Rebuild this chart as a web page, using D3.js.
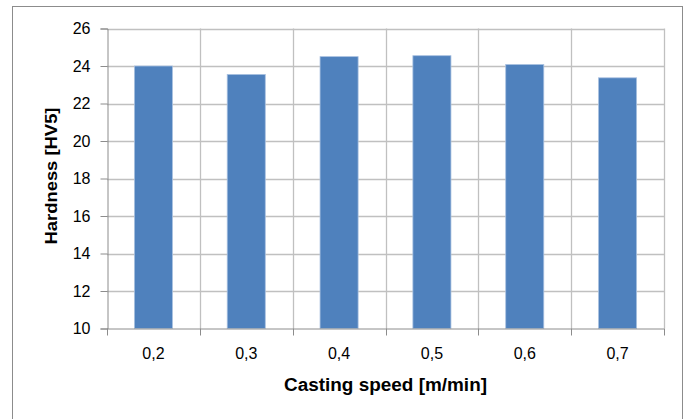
<!DOCTYPE html>
<html><head><meta charset="utf-8">
<script src="https://cdn.jsdelivr.net/npm/d3@7"></script>
<style>body{margin:0;background:#fff}svg{display:block}</style>
</head><body>
<svg id="c" width="689" height="419"></svg>
<script>
const categories = ["0,2","0,3","0,4","0,5","0,6","0,7"];
const hardness = [24.0, 23.55, 24.5, 24.55, 24.08, 23.37];
const yTicks = [10,12,14,16,18,20,22,24,26];
const xTitle = "Casting speed [m/min]";
const yTitle = "Hardness [HV5]";

const svg = d3.select("#c");
const font = "'Liberation Sans', Arial, sans-serif";
const L = 107, R = 664, T = 28.5, B = 328.5;

// outer frame
svg.append("rect").attr("x",12.5).attr("y",6.5).attr("width",670).attr("height",430)
  .attr("fill","none").attr("stroke","#8c8c8c").attr("stroke-width",1);

const x = d3.scaleBand().domain(categories).range([L,R]).paddingInner(0.59).paddingOuter(0.295);
const xb = d3.scaleBand().domain(categories).range([L,R]).padding(0);
const y = d3.scaleLinear().domain([10,26]).range([B,T]);

// horizontal gridlines
svg.append("g").selectAll("line").data(yTicks.filter(d=>d>10)).join("line")
  .attr("x1",L).attr("x2",R).attr("y1",d=>Math.round(y(d))+0.5).attr("y2",d=>Math.round(y(d))+0.5)
  .attr("stroke","#c0c0c0").attr("stroke-width",1.3);
// vertical gridlines at category boundaries
const bounds = categories.map(c=>xb(c)).concat([R]);
svg.append("g").selectAll("line").data(bounds.slice(1)).join("line")
  .attr("x1",d=>Math.round(d)+0.5).attr("x2",d=>Math.round(d)+0.5).attr("y1",T).attr("y2",B)
  .attr("stroke","#c0c0c0").attr("stroke-width",1.3);

// bars
svg.append("g").selectAll("rect").data(hardness).join("rect")
  .attr("x",(d,i)=>x(categories[i])).attr("width",x.bandwidth())
  .attr("y",d=>y(d)).attr("height",d=>B-y(d))
  .attr("fill","#4f81bd").attr("stroke","#a9c1e0").attr("stroke-width",0.8);

// y axis
const ya = d3.axisLeft(y).tickValues(yTicks).tickSize(7).tickPadding(10).tickFormat(d3.format("d"));
const gy = svg.append("g").attr("transform",`translate(${L+0.5},0)`).call(ya);
gy.select(".domain").attr("stroke","#8c8c8c");
gy.selectAll(".tick line").attr("stroke","#8c8c8c");
gy.selectAll(".tick text").attr("font-family",font).attr("font-size",16).attr("fill","#000");

// x axis
const gx = svg.append("g").attr("transform",`translate(0,${B+0.5})`)
  .call(d3.axisBottom(x).tickSize(0).tickPadding(19));
gx.select(".domain").attr("stroke","#8c8c8c").attr("d",`M${L},0H${R}`);
gx.selectAll(".tick text").attr("font-family",font).attr("font-size",16).attr("fill","#000");
svg.append("g").selectAll("line").data(bounds).join("line")
  .attr("x1",d=>Math.round(d)+0.5).attr("x2",d=>Math.round(d)+0.5).attr("y1",B).attr("y2",B+7)
  .attr("stroke","#8c8c8c");

// titles
svg.append("text").attr("x",(L+R)/2).attr("y",391).attr("text-anchor","middle")
  .attr("font-family",font).attr("font-weight","bold").attr("font-size",18)
  .attr("textLength",203).attr("lengthAdjust","spacingAndGlyphs").text(xTitle);
svg.append("text").attr("transform",`translate(57,176) rotate(-90)`).attr("text-anchor","middle")
  .attr("font-family",font).attr("font-weight","bold").attr("font-size",17)
  .attr("textLength",137).attr("lengthAdjust","spacingAndGlyphs").text(yTitle);
</script>
</body></html>
